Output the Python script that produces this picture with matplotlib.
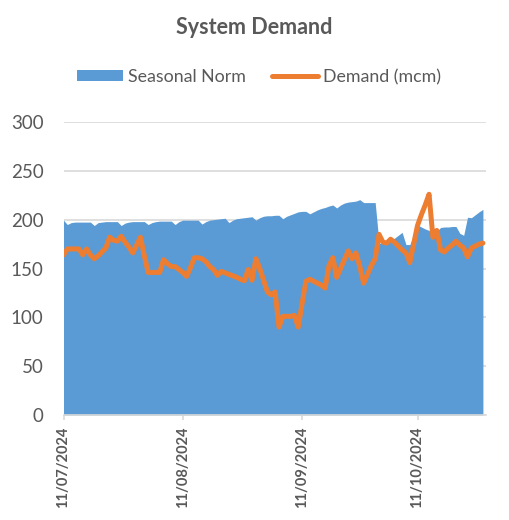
import matplotlib
matplotlib.use("Agg")
import matplotlib.pyplot as plt
import matplotlib.dates as mdates
from matplotlib.patches import Patch
from matplotlib.lines import Line2D
import pandas as pd

plt.rcParams['font.family'] = ['Lato', 'DejaVu Sans']

start_date = "2024-07-11"
n_days = 110

seasonal_norm = [
    199.5, 195, 197, 197.5, 197.5, 197.5, 197.5, 197.5, 194, 197,
    197.5, 198, 198, 198, 198, 194, 196.5, 197.5, 198, 198,
    198, 198, 195, 197, 198, 198.5, 198.5, 198.5, 198.5, 195,
    198, 199.5, 199.5, 199.5, 199.5, 199.5, 195.5, 198, 199.5, 200,
    200.5, 201, 201.5, 197, 199.5, 201, 201.5, 202, 202.5, 203,
    199.5, 202, 203.5, 204, 204, 204.5, 204.5, 201, 203.5, 205,
    206.5, 208, 208.5, 208.5, 206, 208, 210, 211.5, 212.5, 214,
    215, 212, 215, 217, 218, 218.5, 219, 220.5, 217.5, 217.5,
    217.5, 217.5, 176, 176, 177, 178.5, 181, 184, 187, 174.5,
    174.5, 184, 194.5, 192.5, 190.5, 189, 184, 188, 192, 192.5,
    192.5, 193, 193, 186, 184, 202.5, 202, 205, 208, 210.5,
]

demand = [
    164, 170, 170, 170, 170, 164, 170, 164, 160, 163,
    167, 171, 182, 179, 178, 183, 177, 172, 166, 174,
    182, 163, 146, 146, 146, 146, 159, 155, 152, 152,
    149, 146, 142, 151, 161, 161, 160, 157, 152, 149,
    143, 147, 145.5, 144, 142.5, 141, 139, 137.5, 149, 138,
    160, 150, 138, 126, 123, 126, 90, 101, 101, 101,
    102, 90, 114, 137, 139, 137, 135, 133, 130, 153,
    161, 141, 150, 159, 168, 160, 166, 152, 135, 144,
    153, 160, 185, 177, 176, 180, 177, 173, 169, 166,
    156, 175, 194, 205, 215, 226, 182, 189, 169, 167,
    171, 174, 178, 174, 171, 162, 171, 173, 175, 176,
]

tick_dates = ["2024-07-11", "2024-08-11", "2024-09-11", "2024-10-11"]
tick_labels = ["11/07/2024", "11/08/2024", "11/09/2024", "11/10/2024"]
y_ticks = [0, 50, 100, 150, 200, 250, 300]

title = "System Demand"
series_names = ["Seasonal Norm", "Demand (mcm)"]

BLUE = "#5B9BD5"
ORANGE = "#ED7D31"
TXT = "#595959"
GRID = "#D9D9D9"

dates = pd.date_range(start_date, periods=n_days, freq="D")

fig = plt.figure(figsize=(5.09, 5.20), dpi=100)
ax = fig.add_axes([63.5 / 509, 1 - 415 / 520, (486 - 63.5) / 509, 293 / 520])

ax.fill_between(dates, 0, seasonal_norm, color=BLUE, linewidth=0, zorder=2)
ax.plot(dates, demand, color=ORANGE, lw=3.6, solid_joinstyle='round',
        solid_capstyle='round', zorder=3)

x0 = mdates.date2num(pd.Timestamp(start_date))
ax.set_xlim(x0, x0 + 109.8)
ax.set_ylim(0, 300)
ax.set_yticks(y_ticks)
ax.set_yticklabels([str(v) for v in y_ticks])
ax.yaxis.grid(True, color=GRID, lw=1.2, zorder=1)
ax.set_axisbelow(True)

ax.set_xticks([mdates.date2num(pd.Timestamp(d)) for d in tick_dates])
ax.set_xticklabels(tick_labels, rotation=90, fontsize=10.5, fontweight='bold', color=TXT)

for s in ['top', 'right', 'left']:
    ax.spines[s].set_visible(False)
ax.spines['bottom'].set_color(GRID)
ax.spines['bottom'].set_linewidth(1.2)
ax.spines['bottom'].set_zorder(4)

ax.tick_params(axis='y', length=0, labelsize=13.5, labelcolor=TXT, pad=14.5)
ax.tick_params(axis='x', length=3.6, width=1.2, color=GRID, pad=4.5)

fig.text(254 / 509, 1 - 28 / 520, title, ha='center', va='center',
         fontsize=15.5, fontweight='bold', color=TXT)

handles = [Patch(facecolor=BLUE, edgecolor='none'),
           Line2D([0], [0], color=ORANGE, lw=3.6, solid_capstyle='round')]
fig.legend(handles, series_names, loc='center', bbox_to_anchor=(259 / 509, 1 - 77 / 520),
           ncol=2, frameon=False, fontsize=12.8, labelcolor=TXT,
           handlelength=2.6, handleheight=0.6, handletextpad=0.25, columnspacing=1.5)

fig.savefig("out.png", dpi=100)
